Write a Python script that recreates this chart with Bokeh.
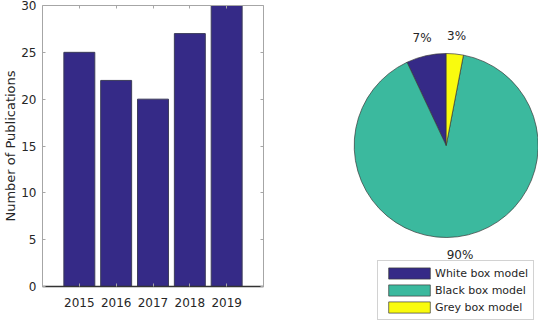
import math
from bokeh.plotting import figure
from bokeh.layouts import row, column
from bokeh.models import Range1d, FixedTicker, LinearAxis, Legend, LegendItem
from bokeh.core.properties import value
from bokeh.embed import file_html
from bokeh.resources import INLINE

# ---------------- data ----------------
years = ["2015", "2016", "2017", "2018", "2019"]
publications = [25, 22, 20, 27, 30]
y_ticks = [0, 5, 10, 15, 20, 25, 30]

model_types = ["White box model", "Black box model", "Grey box model"]
model_shares = [7, 90, 3]          # percent
pie_labels = ["7%", "90%", "3%"]
pie_colors = ["#352A87", "#3BB99E", "#F9FB0E"]
bar_color = "#352A87"

FONT = "DejaVu Sans"
TEXT = "#262626"
AXIS_GREY = "#A6A6A6"

# ---------------- bar chart ----------------
W1, H = 270, 320
xpos = [i + 1 for i in range(len(years))]
p = figure(width=W1, height=H, output_backend="svg", toolbar_location=None,
           x_range=Range1d(0, len(years) + 1), y_range=Range1d(0, 30),
           min_border_top=5, min_border_bottom=34, min_border_left=42,
           min_border_right=7)
p.outline_line_color = None
p.grid.visible = False

p.vbar(x=xpos, top=publications, width=0.84, bottom=0,
       fill_color=bar_color, line_color="#3C3C5A", line_width=1)

xa = p.xaxis[0]
xa.ticker = FixedTicker(ticks=xpos)
xa.major_label_overrides = {x: y for x, y in zip(xpos, years)}
ya = p.yaxis[0]
ya.ticker = FixedTicker(ticks=y_ticks)
ya.axis_label = "Number of Publications"
ya.axis_label_text_font_style = "normal"
ya.axis_label_text_font = FONT
ya.axis_label_text_font_size = "13px"
ya.axis_label_text_color = TEXT
ya.axis_label_standoff = 0
for ax in (xa, ya):
    ax.major_label_text_font = FONT
    ax.major_label_text_font_size = "12px"
    ax.major_label_text_color = TEXT
    ax.major_tick_in = 3
    ax.major_tick_out = 0
    ax.minor_tick_in = 0
    ax.minor_tick_out = 0
    ax.major_tick_line_color = AXIS_GREY
    ax.axis_line_color = AXIS_GREY
ya.major_label_standoff = 6
xa.major_label_standoff = 11
xa.axis_line_color = "#333333"
xa.axis_line_width = 1.5

top_ax = LinearAxis(ticker=FixedTicker(ticks=xpos))
right_ax = LinearAxis(ticker=FixedTicker(ticks=y_ticks))
for ax in (top_ax, right_ax):
    ax.major_label_text_font_size = "1px"
    ax.major_label_text_color = None
    ax.major_label_standoff = 0
    ax.major_tick_in = 3
    ax.major_tick_out = 0
    ax.minor_tick_in = 0
    ax.minor_tick_out = 0
    ax.major_tick_line_color = AXIS_GREY
    ax.axis_line_color = AXIS_GREY
p.add_layout(top_ax, "above")
p.add_layout(right_ax, "right")

# ---------------- pie chart ----------------
W2 = 538 - W1
scale = 92.0
cx, cy = 175.7, 145.0        # pie centre inside the frame, px
q = figure(width=W2, height=H, output_backend="svg", toolbar_location=None,
           x_range=Range1d(-cx / scale, (W2 - cx) / scale),
           y_range=Range1d(-(H - cy) / scale, cy / scale),
           x_axis_location=None, y_axis_location=None, min_border=0)
q.grid.visible = False
q.outline_line_color = None

total = float(sum(model_shares))
starts, ends, mids = [], [], []
a = math.pi / 2
for s in model_shares:
    span = 2 * math.pi * s / total
    starts.append(a)
    ends.append(a + span)
    mids.append(a + span / 2)
    a += span

items = []
for i, name in enumerate(model_types):
    r = q.wedge(x=0, y=0, radius=1, start_angle=starts[i], end_angle=ends[i],
                direction="anticlock", fill_color=pie_colors[i],
                line_color="#3A3A3A", line_width=0.7)
    items.append(LegendItem(label=name, renderers=[r]))

lx = [1.2 * math.cos(m) for m in mids]
ly = [1.2 * math.sin(m) for m in mids]
q.text(x=lx, y=ly, text=pie_labels, text_align="center", text_baseline="middle",
       text_font=value(FONT), text_font_size="12px", text_color=TEXT)

legend = Legend(items=items, location=(107, 0), orientation="vertical",
                label_text_font=FONT, label_text_font_size="11px",
                label_text_color=TEXT, label_height=14, glyph_height=14,
                glyph_width=52, label_standoff=0, spacing=3, padding=5,
                margin=0, border_line_color=AXIS_GREY,
                background_fill_color="white", background_fill_alpha=1.0)
q.add_layout(legend, "center")

layout = row(column(p), column(q))
open("out.html", "w").write(file_html(layout, INLINE))
